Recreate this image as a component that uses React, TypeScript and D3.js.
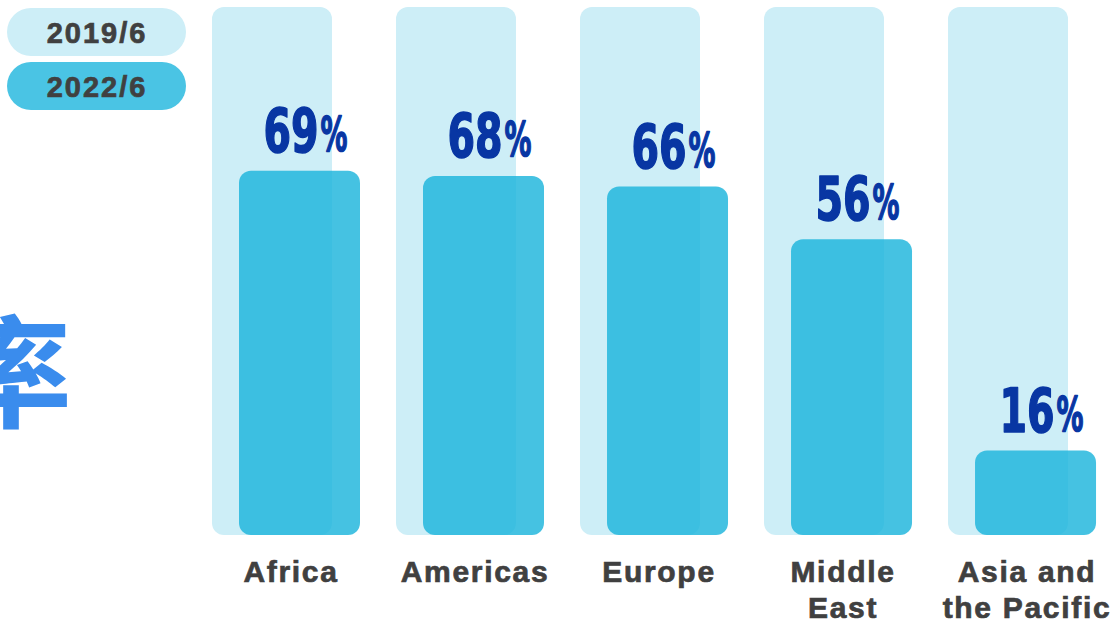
import React from "react";
import * as d3 from "d3";

const categories: string[][] = [["Africa"], ["Americas"], ["Europe"], ["Middle", "East"], ["Asia and", "the Pacific"]];
const series2019: number[] = [100, 100, 100, 100, 100];
const series2022: number[] = [69, 68, 66, 56, 16];
const legendLabels: string[] = ["2019/6", "2022/6"];
const titleChar = "率";

const W = 1113;
const H = 621;

export default function App() {
  const keys = categories.map((c) => c.join(" "));
  const x = d3.scaleBand<string>().domain(keys).range([212, 1068]).paddingInner(0.348).paddingOuter(0);
  const y = d3.scaleLinear().domain([0, 100]).range([535, 7]);
  const bw = x.bandwidth();
  const offset = 27;
  const fgW = 121;
  const arial = "'Liberation Sans', Arial, sans-serif";
  const condensed = "'DejaVu Sans', 'Liberation Sans', sans-serif";
  const legendFill = ["#cdeef7", "#4ac4e4"];

  return (
    <div style={{ position: "absolute", left: 0, top: 0 }}>
      <svg width={W} height={H} style={{ display: "block" }}>
        <rect width={W} height={H} fill="#ffffff" />
        {/* title char, cut off */}
        <text
          x={-50}
          y={418}
          fontFamily="'Noto Sans CJK SC', sans-serif"
          fontWeight={700}
          fontSize={122}
          fill="#3a8ced"
        >
          {titleChar}
        </text>
        {/* legend */}
        {legendLabels.map((l, i) => (
          <g key={l}>
            <rect x={7} y={8 + i * 54} width={179} height={48} rx={24} fill={legendFill[i]} />
            <text
              x={97}
              y={43 + i * 54}
              textAnchor="middle"
              fontFamily={arial}
              fontWeight="bold"
              fontSize={29}
              letterSpacing={2}
              fill="#404040"
              stroke="#404040"
              strokeWidth={0.7}
            >
              {l}
            </text>
          </g>
        ))}
        {/* background bars */}
        {keys.map((k, i) => (
          <rect
            key={"bg" + k}
            x={x(k)!}
            y={y(series2019[i])}
            width={bw}
            height={y(0) - y(series2019[i])}
            rx={12}
            fill="#cdeef7"
          />
        ))}
        {/* foreground bars */}
        {keys.map((k, i) => (
          <rect
            key={"fg" + k}
            x={x(k)! + offset}
            y={y(series2022[i])}
            width={fgW}
            height={y(0) - y(series2022[i])}
            rx={12}
            fill="#1cb4dc"
            fillOpacity={0.82}
          />
        ))}
        {/* value labels */}
        {keys.map((k, i) => {
          const cx = x(k)! + offset + fgW / 2;
          const by = y(series2022[i]) - 19;
          return (
            <g key={"lab" + k} fill="#0836a3" stroke="#0836a3" strokeWidth={1.6} strokeLinejoin="round">
              <text
                transform={`translate(${cx + 19},${by}) scale(0.66,1)`}
                textAnchor="end"
                fontFamily={condensed}
                fontWeight="bold"
                fontSize={60}
              >
                {String(series2022[i])}
              </text>
              <text
                transform={`translate(${cx + 21},${by - 1}) scale(0.56,1)`}
                textAnchor="start"
                fontFamily={condensed}
                fontWeight="bold"
                fontSize={48}
              >
                %
              </text>
            </g>
          );
        })}
        {/* category labels */}
        {keys.map((k, i) => (
          <text
            key={"cat" + k}
            textAnchor="middle"
            fontFamily={arial}
            fontWeight="bold"
            fontSize={30}
            letterSpacing={1.7}
            fill="#404040"
            stroke="#404040"
            strokeWidth={0.7}
          >
            {categories[i].map((line, j) => (
              <tspan key={j} x={x(k)! + 79} y={582 + j * 36}>
                {line}
              </tspan>
            ))}
          </text>
        ))}
      </svg>
    </div>
  );
}
